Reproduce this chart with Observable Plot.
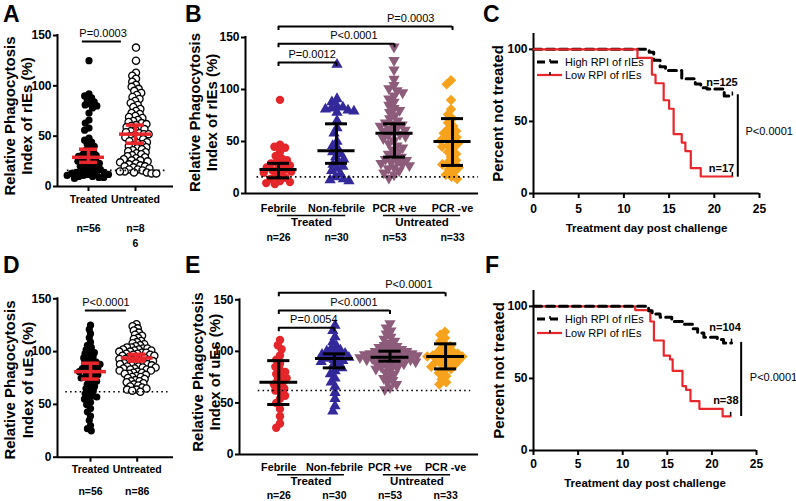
<!DOCTYPE html>
<html><head><meta charset="utf-8">
<script src="https://cdn.jsdelivr.net/npm/d3@7"></script>
<script src="https://cdn.jsdelivr.net/npm/@observablehq/plot@0.6"></script>
<style>
body{margin:0;background:#fff;}
#root{position:relative;width:796px;height:501px;overflow:hidden;font-family:"Liberation Sans",Arial,Helvetica,sans-serif;}
#root svg{position:absolute;}
.letter{position:absolute;font-weight:bold;font-size:23px;line-height:1;}
.legtext{position:absolute;font-size:11px;line-height:12px;white-space:nowrap;}
</style></head><body><div id="root"></div>
<script>
const FONT = "'Liberation Sans', Arial, Helvetica, sans-serif";
const RED = "#e8262b";

// ---------- Panel A (rIEs, treated vs untreated) ----------
const catsA = ["Treated", "Untreated"];
const nA = ["n=56", "n=8\n6"];
const rieTreated = [125,92,90,88,86,84,82,81,80,78, 73,66,63,58,56,48,46,44,42,40, 38,36,35,33,32,31,30,29,28,27, 26,25,24,23,22,21,20,19,18,17, 16,15,15,14,14,13,13,12,12,11, 11,10,10,9,9,8];
const rieUntreated = [138,125,113,110,107,104,101,99,97,95, 93,91,89,87,85,83,81,79,77,75, 73,72,70,69,68,66,65,64,63,62, 61,60,59,58,57,56,55,54,53,52, 52,51,50,49,48,47,46,45,44,43, 42,41,40,39,38,37,36,35,34,33, 32,31,30,29,28,27,26,26,25,24, 23,22,21,20,20,19,18,17,17,16, 15,15,14,14,13,13];
const medA = [29, 52], loA = [24, 43], hiA = [37, 61];
const thrA = 16;
const pTextA = ["P=0.0003"], pFromA = [-0.13], pToA = [0.70], pYA = [144], pTxA = [0.31];

// ---------- Panel B (rIEs, four groups) ----------
const catsB = ["Febrile", "Non-febrile", "PCR +ve", "PCR -ve"];
const groupsB = ["Treated", "Untreated"];
const nB = ["n=26", "n=30", "n=53", "n=33"];
const rieFebrile = [90,47,45,44,40,36,34,32,30,29, 28,27,25,24,23,22,21,20,19,17, 15,14,12,11,10,9];
const rieNonFebrile = [124,91,88,84,83,82,81,80,79,78, 70,63,58,50,46,43,40,38,35,33, 30,28,26,24,22,19,16,14,13,12];
const riePcrPos = [141,128,119,110,104,101,99,97,94,91, 88,85,82,80,78,75,72,70,68,67, 66,65,63,62,61,60,58,57,56,55, 53,51,48,46,44,42,40,38,36,35, 33,32,31,30,29,28,27,25,24,22, 20,18,15];
const riePcrNeg = [109,105,90,81,76,72,68,65,62,60, 58,56,54,52,51,50,48,46,45,43, 40,38,35,32,30,28,27,25,23,21, 18,16,14];
const medB = [23, 41, 58, 50], loB = [15, 29, 35, 27], hiB = [29, 67, 67, 72];
const thrB = 16;
const pTextB = ["P=0.0012", "P<0.0001", "P=0.0003"], pFromB = [0, 0, 0], pToB = [1, 2, 3], pYB = [126, 144, 160.6], pTxB = [0.58, 1.30, 2.28];

// ---------- Panel D (uEs, treated vs untreated) ----------
const catsD = ["Treated", "Untreated"];
const nD = ["n=56", "n=86"];
const ueTreated = [125,121,117,113,109,106,104,102,100,99, 98,96,95,94,92,91,90,89,88,87, 86,85,84,83,82,81,80,79,78,77, 76,75,74,73,72,70,69,67,66,65, 63,61,60,58,57,56,55,52,50,46, 43,39,35,30,27,25];
const ueUntreated = [126,124,122,120,118,116,115,113,112,110, 109,108,107,106,105,104,104,103,103,102, 102,101,101,100,100,99,99,98,98,97, 97,96,96,95,95,94,94,93,93,92, 92,91,91,90,90,89,89,88,88,87, 87,86,86,85,85,84,84,83,83,82, 82,81,80,80,79,79,78,77,76,76, 75,74,73,72,72,71,70,69,68,67, 66,65,64,64,63,62];
const medD = [81, 94], loD = [74, 91], hiD = [89, 97.5];
const thrD = 62;
const pTextD = ["P<0.0001"], pFromD = [-0.11], pToD = [0.77], pYD = [139], pTxD = [0.33];

// ---------- Panel E (uEs, four groups) ----------
const catsE = ["Febrile", "Non-febrile", "PCR +ve", "PCR -ve"];
const groupsE = ["Treated", "Untreated"];
const nE = ["n=26", "n=30", "n=53", "n=33"];
const ueFebrile = [111,106,102,96,92,88,85,82,80,78, 76,74,72,70,68,66,64,62,60,57, 54,50,44,37,30,26];
const ueNonFebrile = [125,120,114,109,105,103,101,100,99,98, 97,96,95,94,93,92,91,90,88,86, 84,81,78,74,70,66,60,54,47,42];
const uePcrPos = [127,123,120,117,114,112,110,108,106,105, 104,103,102,101,100,100,99,99,98,98, 97,97,96,96,95,95,94,94,93,93, 92,92,91,91,90,90,89,88,87,86, 85,84,83,82,80,78,76,74,72,70, 68,65,63];
const uePcrNeg = [119,116,113,110,107,105,103,101,100,99, 98,97,96,96,95,95,94,93,92,91, 90,89,88,87,86,85,83,81,79,76, 73,70,68];
const medE = [70, 93, 94.4, 95], loE = [48.5, 84, 90.5, 83], hiE = [91, 97.6, 100.2, 107.3];
const thrE = 62;
const pTextE = ["P=0.0054", "P<0.0001", "P<0.0001"], pFromE = [0, 0, 0], pToE = [1, 2, 3], pYE = [122.9, 139.6, 156.8], pTxE = [0.63, 1.35, 2.34];

// ---------- Panels C and F (Kaplan-Meier) ----------
const kmSeries = ["High RPI of rIEs", "Low RPI of rIEs"];
const kmC_highDay = [0, 12.8, 13.3, 14.0, 14.6, 16.4, 17.9, 18.5, 19.2, 21.1, 22.0];
const kmC_highPct = [100, 98, 92.4, 88, 85.4, 79.6, 76, 73.4, 72.5, 67.6, 67.6];
const kmC_lowDay = [0, 11.5, 13.1, 13.5, 14.4, 15.0, 15.5, 16.4, 16.8, 17.4, 18.5, 22.0];
const kmC_lowPct = [100, 94.1, 82.4, 76.5, 64.7, 58.8, 41.2, 35.3, 29.4, 17.6, 11.8, 11.8];
const nC = ["n=125", "n=17"], nCDay = [20.85, 20.8], nCPct = [77.3, 17.4];
const pC = "P<0.0001";
const kmF_highDay = [0, 12.9, 13.3, 14.2, 15.5, 16.7, 17.9, 18.4, 19.1, 20.6, 21.3, 22.2];
const kmF_highPct = [100, 97, 94.7, 92.5, 89.5, 87.5, 84.5, 81.5, 78.5, 77, 74.5, 74.5];
const kmF_lowDay = [0, 11.4, 13.1, 13.5, 14.6, 15.3, 15.6, 16.7, 17.1, 17.6, 18.6, 21.2, 22.1];
const kmF_lowPct = [100, 97.4, 89.5, 76.3, 65.8, 63.2, 55.3, 44.7, 42.1, 34.2, 28.9, 23.7, 23.7];
const nF = ["n=104", "n=38"], nFDay = [21.47, 21.56], nFPct = [85.2, 34.6];
const pF = "P<0.0001";
const kmTicksX = [0, 5, 10, 15, 20, 25];
const kmTicksY = [0, 50, 100];
const dotTicksY = [0, 50, 100, 150];

// ---------- layout (pixels) ----------
const LAYOUT = {
  A: {left: 0, top: 0, W: 190, H: 250, ml: 57, mr: 17, mt: 35, mb: 64, first: 88, step: 47},
  B: {left: 190, top: 0, W: 290, H: 250, ml: 55, mr: 2, mt: 37, mb: 57, first: 88, step: 58},
  D: {left: 0, top: 250, W: 190, H: 251, ml: 57, mr: 17, mt: 48.3, mb: 44.3, first: 90, step: 46.7},
  E: {left: 190, top: 250, W: 290, H: 251, ml: 49, mr: 2, mt: 49.3, mb: 47, first: 88.3, step: 55.6},
  C: {left: 480, top: 0, W: 316, H: 250, ml: 53, mr: 37, mt: 33, mb: 57},
  F: {left: 480, top: 250, W: 316, H: 251, ml: 53, mr: 40, mt: 40, mb: 51}
};

const root = document.getElementById("root");
function place(svg, L) { svg.style.left = L.left + "px"; svg.style.top = L.top + "px"; root.appendChild(svg); }

// symbols drawn larger than the radius the beeswarm uses, so markers overlap like the original
function scaledSymbol(kind, k) {
  return {
    draw(ctx, size) {
      const s = size * k * k;
      if (kind === "circle") {
        const r = Math.sqrt(s / Math.PI);
        ctx.moveTo(r, 0); ctx.arc(0, 0, r, 0, 2 * Math.PI);
      } else if (kind === "triangle" || kind === "triangleDown") {
        const y = -Math.sqrt(s / (Math.sqrt(3) * 3));
        const f = kind === "triangle" ? 1 : -1;
        ctx.moveTo(0, f * y * 2);
        ctx.lineTo(-Math.sqrt(3) * y, -f * y);
        ctx.lineTo(Math.sqrt(3) * y, -f * y);
        ctx.closePath();
      } else {
        const h = Math.sqrt(s / 2);
        ctx.moveTo(0, -h); ctx.lineTo(h, 0); ctx.lineTo(0, h); ctx.lineTo(-h, 0); ctx.closePath();
      }
    }
  };
}

function dotPanel(cfg) {
  const L = cfg.L;
  const n = cfg.cats.length;
  const idx = d3.range(n);
  const x0 = -(L.first - L.ml) / L.step;
  const x1 = x0 + (L.W - L.ml - L.mr) / L.step;
  const style = {fontFamily: FONT, background: "transparent", overflow: "visible"};
  const eb = idx.map(i => ({i, med: cfg.med[i], lo: cfg.lo[i], hi: cfg.hi[i]}));
  const br = cfg.pText.map((t, k) => ({t, from: cfg.pFrom[k], to: cfg.pTo[k], y: cfg.pY[k], tx: cfg.pTx[k]}));
  const marks = [
    Plot.ruleY([cfg.thr], {x1: cfg.thrSpan[0], x2: cfg.thrSpan[1], stroke: "black", strokeWidth: 1.6, strokeDasharray: "1.6,3.2"}),
    Plot.ruleY([0], {strokeWidth: 2}),
    Plot.ruleX([x0], {y1: 0, y2: 150, strokeWidth: 2, strokeLinecap: "square"}),
    Plot.axisY({ticks: dotTicksY, tickSize: 4, tickPadding: 2, fontSize: 12, fontWeight: "bold", strokeWidth: 2, label: null}),
    Plot.text(cfg.cats, {x: (d, i) => i, frameAnchor: "bottom", dy: cfg.catDy, fontSize: cfg.catSize, fontWeight: "bold", lineAnchor: "middle"}),
    Plot.text(cfg.nLabels, {x: (d, i) => i, frameAnchor: "bottom", dy: cfg.nDy - 4, fontSize: 10.5, fontWeight: "bold", lineAnchor: "top", lineHeight: 1.43}),
    Plot.text([cfg.ytitle], {frameAnchor: "left", rotate: -90, dx: cfg.ytDx, dy: cfg.ytDy, fontSize: 15, fontWeight: "bold", lineHeight: 1.17, lineAnchor: "middle", textAnchor: "middle"}),
    // error bars
    Plot.ruleX(eb, {x: "i", y1: "lo", y2: "hi", stroke: cfg.barColor, strokeWidth: cfg.barW}),
    Plot.ruleY(eb, {y: "med", x1: d => d.i - cfg.medHalf, x2: d => d.i + cfg.medHalf, stroke: cfg.barColor, strokeWidth: cfg.barW}),
    Plot.ruleY(eb, {y: "lo", x1: d => d.i - cfg.capHalf, x2: d => d.i + cfg.capHalf, stroke: cfg.barColor, strokeWidth: cfg.barW}),
    Plot.ruleY(eb, {y: "hi", x1: d => d.i - cfg.capHalf, x2: d => d.i + cfg.capHalf, stroke: cfg.barColor, strokeWidth: cfg.barW}),
    // significance brackets
    Plot.ruleY(br, {y: "y", x1: "from", x2: "to", strokeWidth: 2}),
    Plot.text(br, {x: "tx", y: "y", text: "t", dy: -8, fontSize: 11, lineAnchor: "middle"})
  ];
  if (cfg.xTicks) marks.push(Plot.ruleX(idx, {y1: 0, y2: 0, insetBottom: -5, strokeWidth: 2}));
  if (cfg.bracketTicks) {
    const ends = br.flatMap(b => [{x: b.from, y: b.y}, {x: b.to, y: b.y}]);
    marks.push(Plot.ruleX(ends, {x: "x", y1: "y", y2: "y", insetBottom: -4, strokeWidth: 2}));
  }
  if (cfg.groups) {
    const gr = cfg.groups.map((g, k) => ({g, from: cfg.gFrom[k], to: cfg.gTo[k]}));
    marks.push(Plot.ruleY(gr, {y: 0, x1: "from", x2: "to", dy: cfg.gLineDy, strokeWidth: 1.5}));
    marks.push(Plot.text(gr, {x: d => (d.from + d.to) / 2, frameAnchor: "bottom", text: "g", dy: cfg.gDy, fontSize: 11.5, fontWeight: "bold", lineAnchor: "middle"}));
  }
  const p1 = Plot.plot({
    width: L.W, height: L.H, marginLeft: L.ml, marginRight: L.mr, marginTop: L.mt, marginBottom: L.mb,
    x: {domain: [x0, x1], axis: null}, y: {domain: [0, 150]}, style, marks
  });
  const sx = p1.scale("x");
  const l2 = sx.apply(-0.5), r2 = sx.apply(n - 0.5);
  const k = cfg.rDraw / cfg.rLayout;
  const dotMarks = idx.map(i => Plot.dot(
    cfg.series[i].map(v => ({cat: cfg.cats[i], value: v})),
    Plot.dodgeX({anchor: "middle", padding: 0}, {fx: "cat", y: "value", r: cfg.rLayout, symbol: scaledSymbol(cfg.symbols[i], k), ...cfg.dotStyles[i]})
  ));
  const p2 = Plot.plot({
    width: L.W, height: L.H, marginLeft: l2, marginRight: L.W - r2, marginTop: L.mt, marginBottom: L.mb,
    fx: {domain: cfg.cats, padding: 0, axis: null}, y: {domain: [0, 150], axis: null}, style, marks: dotMarks
  });
  place(p2, L);
  place(p1, L);
}

function kmPanel(cfg) {
  const L = cfg.L;
  const style = {fontFamily: FONT, background: "transparent", overflow: "visible"};
  const high = cfg.highDay.map((t, k) => ({t, s: cfg.highPct[k]}));
  const low = cfg.lowDay.map((t, k) => ({t, s: cfg.lowPct[k]}));
  const ends = [high[high.length - 1], low[low.length - 1]];
  const curves = [
    Plot.line(high, {x: "t", y: "s", curve: "step-after", stroke: "black", strokeWidth: 3, strokeDasharray: "8,5"}),
    Plot.line(low, {x: "t", y: "s", curve: "step-after", stroke: RED, strokeWidth: 2.2})
  ];
  if (cfg.blackOnTop) curves.reverse();
  const p = Plot.plot({
    width: L.W, height: L.H, marginLeft: L.ml, marginRight: L.mr, marginTop: L.mt, marginBottom: L.mb,
    x: {domain: [0, 25]}, y: {domain: [0, 111]}, style,
    marks: [
      Plot.axisX({ticks: kmTicksX, tickSize: 5, tickPadding: cfg.xPad, fontSize: 12, fontWeight: "bold", strokeWidth: 2, label: null}),
      Plot.axisY({ticks: kmTicksY, tickSize: 4, tickPadding: 2, fontSize: 12, fontWeight: "bold", strokeWidth: 2, label: null}),
      Plot.ruleY([0], {strokeWidth: 2}),
      Plot.ruleX([0], {strokeWidth: 2}),
      ...curves,
      Plot.ruleX(ends, {x: "t", y1: "s", y2: "s", insetTop: -4, strokeWidth: 1.5}),
      Plot.text(["Treatment day post challenge"], {frameAnchor: "bottom", dy: cfg.xtDy, fontSize: 11.5, fontWeight: "bold", lineAnchor: "middle"}),
      Plot.text(["Percent not treated"], {frameAnchor: "left", rotate: -90, dx: cfg.ytDx, fontSize: 15, fontWeight: "bold", lineAnchor: "middle", textAnchor: "middle"}),
      Plot.text(cfg.nText, {x: (d, i) => cfg.nDay[i], y: (d, i) => cfg.nPct[i], fontSize: 11, fontWeight: "bold", lineAnchor: "middle"}),
      Plot.ruleX([cfg.pX], {y1: cfg.pY1, y2: cfg.pY2, strokeWidth: 2}),
      Plot.text([cfg.pText], {x: cfg.pTx, y: cfg.pTy, textAnchor: "start", fontSize: 11, lineAnchor: "middle"})
    ]
  });
  place(p, L);
  // legend
  cfg.legendY.forEach((y, k) => {
    const s = document.createElementNS("http://www.w3.org/2000/svg", "svg");
    s.setAttribute("width", 28); s.setAttribute("height", 8);
    s.style.left = "536px"; s.style.top = (y - 4) + "px";
    const ln = document.createElementNS("http://www.w3.org/2000/svg", "line");
    ln.setAttribute("x1", 1); ln.setAttribute("x2", 26); ln.setAttribute("y1", 4); ln.setAttribute("y2", 4);
    ln.setAttribute("stroke", k === 0 ? "black" : RED);
    ln.setAttribute("stroke-width", k === 0 ? 3 : 2.2);
    if (k === 0) ln.setAttribute("stroke-dasharray", "8,5");
    s.appendChild(ln);
    const tk = document.createElementNS("http://www.w3.org/2000/svg", "line");
    tk.setAttribute("x1", 14); tk.setAttribute("x2", 14); tk.setAttribute("y1", 1); tk.setAttribute("y2", 4);
    tk.setAttribute("stroke", "black"); tk.setAttribute("stroke-width", 1.5);
    s.appendChild(tk);
    root.appendChild(s);
    const t = document.createElement("div");
    t.className = "legtext"; t.textContent = kmSeries[k];
    t.style.left = "565px"; t.style.top = (y - 6) + "px";
    root.appendChild(t);
  });
}

const dotStyleBW = [{fill: "black"}, {fill: "white", stroke: "black", strokeWidth: 1.3}];
const dotStyleCol = [{fill: "#e4262b"}, {fill: "#34299b"}, {fill: "#8e5c7b"}, {fill: "#f6a21d"}];
const symBW = ["circle", "circle"];
const symCol = ["circle", "triangle", "triangleDown", "diamond"];

dotPanel({L: LAYOUT.A, cats: catsA, series: [rieTreated, rieUntreated], dotStyles: dotStyleBW, symbols: symBW, rLayout: 2.4, rDraw: 3.6,
  med: medA, lo: loA, hi: hiA, barColor: RED, barW: 3.5, medHalf: 0.34, capHalf: 0.19,
  thr: thrA, thrSpan: [-0.45, 1.68], ytitle: "Relative Phagocytosis\nIndex of rIEs (%)", ytDx: -39.5, ytDy: 5,
  xTicks: true, catDy: 13.5, catSize: 10.5, nLabels: nA, nDy: 39,
  pText: pTextA, pFrom: pFromA, pTo: pToA, pY: pYA, pTx: pTxA, bracketTicks: false});

dotPanel({L: LAYOUT.B, cats: catsB, series: [rieFebrile, rieNonFebrile, riePcrPos, riePcrNeg], dotStyles: dotStyleCol, symbols: symCol, rLayout: 3.0, rDraw: 4.2,
  med: medB, lo: loB, hi: hiB, barColor: "black", barW: 3, medHalf: 0.32, capHalf: 0.19,
  thr: thrB, thrSpan: [-0.37, 3.45], ytitle: "Relative Phagocytosis\nIndex of rIEs (%)", ytDx: -42.5, ytDy: -3,
  xTicks: false, catDy: 15, catSize: 10.8, nLabels: nB, nDy: 41,
  groups: groupsB, gFrom: [-0.02, 1.81], gTo: [1.16, 3.14], gLineDy: 22, gDy: 29,
  pText: pTextB, pFrom: pFromB, pTo: pToB, pY: pYB, pTx: pTxB, bracketTicks: true});

dotPanel({L: LAYOUT.D, cats: catsD, series: [ueTreated, ueUntreated], dotStyles: dotStyleBW, symbols: symBW, rLayout: 2.2, rDraw: 3.6,
  med: medD, lo: loD, hi: hiD, barColor: RED, barW: 3.5, medHalf: 0.34, capHalf: 0.19,
  thr: thrD, thrSpan: [-0.53, 1.66], ytitle: "Relative Phagocytosis\nIndex of uEs (%)", ytDx: -39, ytDy: 2,
  xTicks: true, catDy: 12.3, catSize: 10.5, nLabels: nD, nDy: 31.3,
  pText: pTextD, pFrom: pFromD, pTo: pToD, pY: pYD, pTx: pTxD, bracketTicks: false});

dotPanel({L: LAYOUT.E, cats: catsE, series: [ueFebrile, ueNonFebrile, uePcrPos, uePcrNeg], dotStyles: dotStyleCol, symbols: symCol, rLayout: 2.8, rDraw: 4.2,
  med: medE, lo: loE, hi: hiE, barColor: "black", barW: 3, medHalf: 0.34, capHalf: 0.2,
  thr: thrE, thrSpan: [-0.37, 3.45], ytitle: "Relative Phagocytosis\nIndex of uEs (%)", ytDx: -33.5, ytDy: -5,
  xTicks: false, catDy: 12.7, catSize: 10.8, nLabels: nE, nDy: 38,
  groups: groupsE, gFrom: [-0.02, 1.88], gTo: [1.18, 3.09], gLineDy: 20.3, gDy: 26.7,
  pText: pTextE, pFrom: pFromE, pTo: pToE, pY: pYE, pTx: pTxE, bracketTicks: true});

kmPanel({L: LAYOUT.C, highDay: kmC_highDay, highPct: kmC_highPct, lowDay: kmC_lowDay, lowPct: kmC_lowPct, blackOnTop: false,
  xPad: 6, xtDy: 35, ytDx: -35.5, nText: nC, nDay: nCDay, nPct: nCPct,
  pX: 22.6, pY1: 68.5, pY2: 11.3, pText: pC, pTx: 23.45, pTy: 43, legendY: [62, 75]});

kmPanel({L: LAYOUT.F, highDay: kmF_highDay, highPct: kmF_highPct, lowDay: kmF_lowDay, lowPct: kmF_lowPct, blackOnTop: true,
  xPad: 4, xtDy: 33, ytDx: -34, nText: nF, nDay: nFDay, nPct: nFPct,
  pX: 23.28, pY1: 75, pY2: 23.6, pText: pF, pTx: 24.25, pTy: 50.4, legendY: [319, 333]});

// panel letters
[["A", 3, 3], ["B", 185, 3], ["C", 483, 3], ["D", 3, 254], ["E", 185, 254], ["F", 485, 254]].forEach(([t, x, y]) => {
  const d = document.createElement("div");
  d.className = "letter"; d.textContent = t;
  d.style.left = x + "px"; d.style.top = y + "px";
  root.appendChild(d);
});
</script></body></html>
